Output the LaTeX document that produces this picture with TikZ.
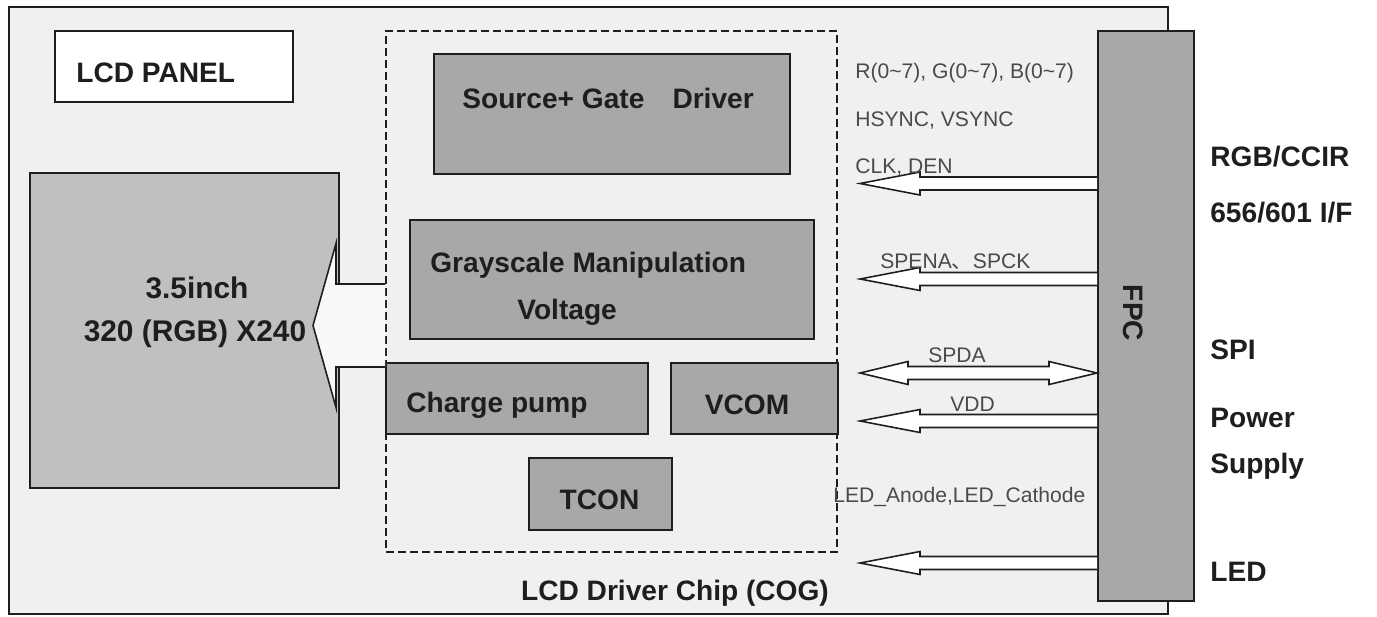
\documentclass[tikz,border=0pt]{standalone}
\usepackage{fontspec}
\setmainfont{Liberation Sans}
\newfontfamily\cjk{Noto Sans CJK SC}
\usepackage{tikz}
\usetikzlibrary{calc}
\definecolor{panelbg}{HTML}{F0F0F0}
\definecolor{glass}{HTML}{C0C0C0}
\definecolor{blockgray}{HTML}{A8A8A8}
\definecolor{edge}{HTML}{1E1E1E}
\definecolor{sigtext}{HTML}{4A4A4A}
\definecolor{flowfill}{HTML}{F8F8F8}

% hollow arrow: from, tip, shaft half, head half, head length
\newcommand{\hollowarrow}[6][sig]{%
  \draw[#1] let \p1=(#2), \p2=(#3) in
    (\x1,\y2+#4) -- (\x2+#6,\y2+#4) -- (\x2+#6,\y2+#5) -- (\p2)
    -- (\x2+#6,\y2-#5) -- (\x2+#6,\y2-#4) -- (\x1,\y2-#4);}
% hollow arrow with two heads
\newcommand{\hollowboth}[2]{%
  \draw[sig] let \p1=(#1), \p2=(#2) in
    (\p1) -- (\x1-9.6mm,\y1+2.3mm) -- (\x1-9.6mm,\y1+1.3mm)
    -- (\x2+9.6mm,\y1+1.3mm) -- (\x2+9.6mm,\y1+2.3mm) -- (\x2,\y1)
    -- (\x2+9.6mm,\y1-2.3mm) -- (\x2+9.6mm,\y1-1.3mm)
    -- (\x1-9.6mm,\y1-1.3mm) -- (\x1-9.6mm,\y1-2.3mm) -- cycle;}

\begin{document}
\begin{tikzpicture}[
  x=0.2mm, y=-0.2mm,
  sz/.style 2 args={minimum width=#1*0.2mm, minimum height=#2*0.2mm,
                    anchor=north west, inner sep=0pt},
  frame/.style={draw=edge, line width=1.1pt},
  blk/.style={frame, fill=blockgray},
  title/.style={font=\fontsize{16}{19}\selectfont\bfseries, text=edge, inner sep=0pt},
  bigtitle/.style={title, font=\fontsize{17}{20}\selectfont\bfseries},
  sigl/.style={font=\fontsize{12}{14}\selectfont, text=sigtext, anchor=west, inner sep=0pt},
  sig/.style={draw=edge, line width=0.9pt, fill=white, line join=miter},
  flow/.style={sig, fill=flowfill}
]
  \useasboundingbox (0,0) rectangle (1377,617);

  % LCD panel
  \node[frame, fill=panelbg, sz={1159}{607}] (panel) at (8,6) {};
  \node[frame, fill=white, sz={238}{71}] (name) at (54,30) {};
  \node[title, anchor=west] (name-t) at (76,73) {LCD PANEL};

  % driver chip
  \node[frame, dashed, dash pattern=on 1.6mm off 0.8mm, sz={451}{521}] (chip) at (385,30) {};
  \node[blk, sz={356}{120}] (srcgate) at (433,53) {};
  \node[blk, sz={404}{119}] (gray) at (409,219) {};
  \node[blk, sz={262}{71}] (pump) at (385,362) {};
  \node[blk, sz={167}{71}] (vcom) at (670,362) {};
  \node[blk, sz={143}{72}] (tcon) at (528,457) {};
  \node[title, anchor=west] (srcgate-t) at (462,98) {Source+ Gate\quad Driver};
  \node[title, anchor=west] (gray-t1) at (430,265) {Grayscale Manipulation};
  \node[title, anchor=west] (gray-t2) at (517,312) {Voltage};
  \node[title, anchor=west] (pump-t) at (406,405) {Charge pump};
  \node[title] (vcom-t) at (747,405) {VCOM};
  \node[title] (tcon-t) at (599.5,500) {TCON};
  \node[title] (chip-t) at (675,593) {LCD Driver Chip (COG)};

  % glass
  \node[frame, fill=glass, sz={309}{315}] (glassbox) at (29,172) {};
  \node[bigtitle] (glass-t1) at (197,288) {3.5inch};
  \node[bigtitle] (glass-t2) at (195,334) {320 (RGB) X240};
  \coordinate (glass-tip) at (313,325.5);
  \hollowarrow[flow]{chip.west}{glass-tip}{8.3mm}{16.4mm}{4.6mm}

  % FPC
  \node[frame, line width=1.4pt, fill=blockgray, sz={96}{570}] (fpc) at (1097,30) {};
  \node[title, rotate=-90] (fpc-t) at (1133,313) {FPC};

  % signals
  \coordinate (clk-tip) at (860,183.5);
  \coordinate (spena-tip) at (860,279);
  \coordinate (spda-tip) at (860,373);
  \coordinate (vdd-tip) at (860,421);
  \coordinate (led-tip) at (860,563);
  \hollowarrow{fpc.west}{clk-tip}{1.3mm}{2.3mm}{12mm}
  \hollowarrow{fpc.west}{spena-tip}{1.3mm}{2.3mm}{12mm}
  \hollowboth{fpc.west |- spda-tip}{spda-tip}
  \hollowarrow{fpc.west}{vdd-tip}{1.3mm}{2.3mm}{12mm}
  \hollowarrow{fpc.west}{led-tip}{1.3mm}{2.3mm}{12mm}

  \node[sigl] (rgb-s) at (855,73) {R(0\textasciitilde 7), G(0\textasciitilde 7), B(0\textasciitilde 7)};
  \node[sigl] (sync-s) at (855,120) {HSYNC, VSYNC};
  \node[sigl] (clk-s) at (855,167) {CLK, DEN};
  \node[sigl] (spena-s) at (880,262) {SPENA{\cjk 、}SPCK};
  \node[sigl] (spda-s) at (928,355) {SPDA};
  \node[sigl] (vdd-s) at (950,404) {VDD};
  \node[sigl] (led-s) at (833,497) {LED\_Anode,LED\_Cathode};

  % interface labels
  \node[title, anchor=west] (if-rgb1) at (1210,157) {RGB/CCIR};
  \node[title, anchor=west] (if-rgb2) at (1210,213) {656/601 I/F};
  \node[title, anchor=west] (if-spi) at (1210,350) {SPI};
  \node[title, anchor=west] (if-pwr1) at (1210,418) {Power};
  \node[title, anchor=west] (if-pwr2) at (1210,466) {Supply};
  \node[title, anchor=west] (if-led) at (1210,572) {LED};
\end{tikzpicture}
\end{document}
